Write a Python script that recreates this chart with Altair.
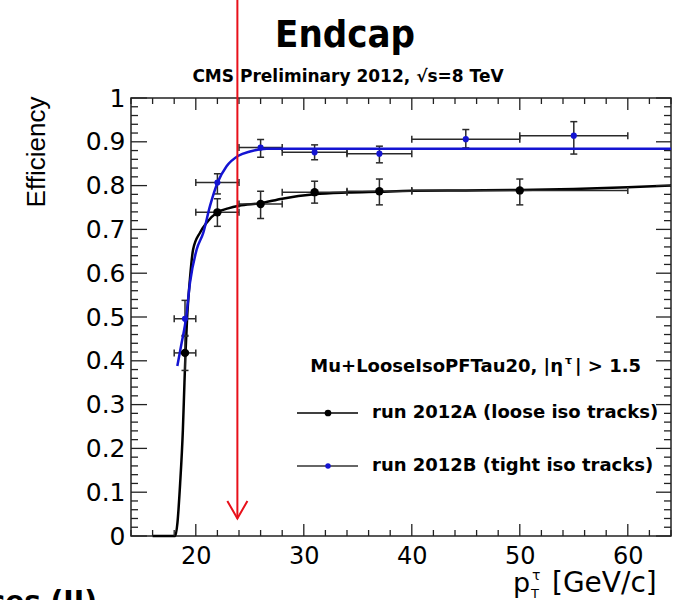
import altair as alt
import pandas as pd

# ---------------- data ----------------
# run 2012A (black, loose iso tracks)
a_x = [19, 22, 26, 31, 37, 50]
a_y = [0.418, 0.739, 0.758, 0.785, 0.787, 0.789]
a_xlo = [18, 20, 24, 28, 34, 40]
a_xhi = [20, 24, 28, 34, 40, 60]
a_ylo = [0.378, 0.707, 0.725, 0.760, 0.756, 0.756]
a_yhi = [0.458, 0.770, 0.787, 0.810, 0.815, 0.815]

# run 2012B (blue, tight iso tracks)
b_x = [19, 22, 26, 31, 37, 45, 55]
b_y = [0.496, 0.807, 0.887, 0.876, 0.873, 0.906, 0.914]
b_xlo = [18, 20, 24, 28, 34, 40, 50]
b_xhi = [20, 24, 28, 34, 40, 50, 60]
b_ylo = [0.456, 0.781, 0.865, 0.859, 0.852, 0.886, 0.872]
b_yhi = [0.538, 0.827, 0.905, 0.893, 0.890, 0.928, 0.946]

# fitted turn-on curves
a_fit_x = [16.0, 18.1, 18.3, 18.55, 18.8, 18.95, 19.05, 19.2, 19.45, 19.75, 20.4, 21.0,
           22.0, 23.0, 24.0, 26.0, 28.0, 31.0, 34.0, 37.0, 40.0, 45.0, 50.0, 55.0, 60.0, 64.0]
a_fit_y = [0.0, 0.0, 0.03, 0.12, 0.24, 0.35, 0.42, 0.50, 0.585, 0.654, 0.693, 0.715,
           0.739, 0.748, 0.754, 0.760, 0.770, 0.780, 0.784, 0.786, 0.788, 0.789, 0.790, 0.792, 0.796, 0.800]
b_fit_x = [18.29, 18.69, 19.09, 19.46, 20.08, 20.69, 21.31, 22.02, 22.85, 23.94, 25.02, 26.56, 30.0, 40.0, 64.0]
b_fit_y = [0.388, 0.441, 0.496, 0.578, 0.654, 0.692, 0.753, 0.807, 0.844, 0.868, 0.878, 0.884, 0.884, 0.884, 0.884]

# threshold arrow
arrow_x = 23.85
arrow_tip = 0.04
arrow_head_dx = 0.93
arrow_head_dy = 0.04

# axes
x_domain = [14, 64]
y_domain = [0, 1]
x_major = [20, 30, 40, 50, 60]
x_minor = [14, 16, 18, 22, 24, 26, 28, 32, 34, 36, 38, 42, 44, 46, 48, 52, 54, 56, 58, 62, 64]
y_major = [0.0, 0.1, 0.2, 0.3, 0.4, 0.5, 0.6, 0.7, 0.8, 0.9, 1.0]
y_minor = [round(m + k * 0.02, 2) for m in y_major[:-1] for k in (1, 2, 3, 4)]

title_text = "Endcap"
subtitle_text = "CMS Preliminary 2012, \u221as=8 TeV"
ytitle_text = "Efficiency"
legend_header = ["Mu+LooseIsoPFTau20, |\u03b7", "\u03c4", "| > 1.5"]
legend_a = "run 2012A (loose iso tracks)"
legend_b = "run 2012B (tight iso tracks)"
corner_text = "ces (II)"

# ---------------- chart ----------------
W, H = 540, 438
FONT = "DejaVu Sans"
BLUE = "#1414d2"
ERR = "#2a2a2a"
RED = "#e8101a"

x_axis = alt.Axis(values=x_major, title=None, domain=False, ticks=False, tickSize=0, grid=False,
                  labelFont=FONT, labelFontSize=24, labelColor="black", labelPadding=8,
                  labelFlush=False, labelOverlap=False)
y_axis = alt.Axis(values=y_major, format=".1~f", title=None, domain=False, ticks=False, tickSize=0,
                  grid=False, labelFont=FONT, labelFontSize=25, labelColor="black", labelPadding=6,
                  labelFlush=False, labelOverlap=False)


def xs():
    return alt.Scale(domain=x_domain, nice=False, zero=False)


def ys():
    return alt.Scale(domain=y_domain, nice=False, zero=False)


def X(f):
    return alt.X(f, type="quantitative", scale=xs(), axis=x_axis)


def Y(f):
    return alt.Y(f, type="quantitative", scale=ys(), axis=y_axis)


layers = []

afit = pd.DataFrame({"x": a_fit_x, "y": a_fit_y, "o": list(range(len(a_fit_x)))})
bfit = pd.DataFrame({"x": b_fit_x, "y": b_fit_y, "o": list(range(len(b_fit_x)))})

layers.append(alt.Chart(afit).mark_line(color="black", strokeWidth=2.5, interpolate="monotone").encode(
    x=X("x"), y=Y("y"), order="o:Q"))

# ticks (ROOT style, inside the frame)
xmaj = pd.DataFrame({"v": x_major})
xmin = pd.DataFrame({"v": x_minor})
ymaj = pd.DataFrame({"v": y_major})
ymin = pd.DataFrame({"v": y_minor})
tk = dict(color="#222", strokeWidth=1.3)
layers += [
    alt.Chart(xmaj).mark_rule(**tk).encode(x=X("v"), y=alt.value(H), y2=alt.value(H - 12)),
    alt.Chart(xmin).mark_rule(**tk).encode(x=X("v"), y=alt.value(H), y2=alt.value(H - 6)),
    alt.Chart(xmaj).mark_rule(**tk).encode(x=X("v"), y=alt.value(0), y2=alt.value(12)),
    alt.Chart(xmin).mark_rule(**tk).encode(x=X("v"), y=alt.value(0), y2=alt.value(6)),
    alt.Chart(ymaj).mark_rule(**tk).encode(y=Y("v"), x=alt.value(0), x2=alt.value(16)),
    alt.Chart(ymin).mark_rule(**tk).encode(y=Y("v"), x=alt.value(0), x2=alt.value(7)),
    alt.Chart(ymaj).mark_rule(**tk).encode(y=Y("v"), x=alt.value(W), x2=alt.value(W - 15)),
    alt.Chart(ymin).mark_rule(**tk).encode(y=Y("v"), x=alt.value(W), x2=alt.value(W - 7)),
]


# error bars
def errbars(df):
    out = [
        alt.Chart(df).mark_rule(color=ERR, strokeWidth=1.5).encode(x=X("x"), y=Y("ylo"), y2="yhi:Q"),
        alt.Chart(df).mark_rule(color=ERR, strokeWidth=1.5).encode(x=X("xlo"), x2="xhi:Q", y=Y("y")),
    ]
    for f in ("ylo", "yhi"):
        out.append(alt.Chart(df).mark_tick(orient="horizontal", color=ERR, size=7, thickness=1.5,
                                           opacity=1).encode(x=X("x"), y=Y(f)))
    for f in ("xlo", "xhi"):
        out.append(alt.Chart(df).mark_tick(orient="vertical", color=ERR, size=7, thickness=1.5,
                                           opacity=1).encode(x=X(f), y=Y("y")))
    return out


adf = pd.DataFrame({"x": a_x, "y": a_y, "xlo": a_xlo, "xhi": a_xhi, "ylo": a_ylo, "yhi": a_yhi})
bdf = pd.DataFrame({"x": b_x, "y": b_y, "xlo": b_xlo, "xhi": b_xhi, "ylo": b_ylo, "yhi": b_yhi})
layers += errbars(adf)
layers += errbars(bdf)

layers.append(alt.Chart(bfit).mark_line(color=BLUE, strokeWidth=2.5, interpolate="monotone").encode(
    x=X("x"), y=Y("y"), order="o:Q"))

layers.append(alt.Chart(adf).mark_point(filled=True, color="black", size=70, opacity=1).encode(x=X("x"), y=Y("y")))
layers.append(alt.Chart(bdf).mark_point(filled=True, color=BLUE, size=38, opacity=1).encode(x=X("x"), y=Y("y")))

# legend (drawn as in the ROOT pad)
one = pd.DataFrame({"k": [0]})


def txt(s, x, y, size, bold=False, align="left", baseline="middle", font=FONT, angle=None, color="black"):
    kw = dict(align=align, baseline=baseline, fontSize=size, font=font, color=color,
              fontWeight="bold" if bold else "normal")
    if angle is not None:
        kw["angle"] = angle
    return alt.Chart(pd.DataFrame({"t": [s]})).mark_text(**kw).encode(
        text="t:N", x=alt.value(x), y=alt.value(y))


layers += [
    txt(legend_header[0], 432, 269, 18, bold=True, align="right"),
    txt(legend_header[1], 434, 263, 11, bold=True),
    txt(legend_header[2], 444, 269, 18, bold=True),
    alt.Chart(one).mark_rule(color="black", strokeWidth=1.5).encode(
        x=alt.value(166), x2=alt.value(227), y=alt.value(315)),
    alt.Chart(one).mark_point(filled=True, color="black", size=45, opacity=1).encode(
        x=alt.value(197), y=alt.value(315)),
    txt(legend_a, 241, 315, 18, bold=True),
    alt.Chart(one).mark_rule(color="#333", strokeWidth=1.3).encode(
        x=alt.value(166), x2=alt.value(227), y=alt.value(368)),
    alt.Chart(one).mark_point(filled=True, color=BLUE, size=30, opacity=1).encode(
        x=alt.value(197), y=alt.value(368)),
    txt(legend_b, 241, 368, 18, bold=True),
]

# titles
layers += [
    txt(title_text, 214, -62, 38, bold=True, align="center", font="Liberation Sans Narrow, DejaVu Sans Condensed, Liberation Sans"),
    txt(subtitle_text, 217, -21, 17, bold=True, align="center"),
    txt(ytitle_text, -94, 54, 26, align="center", font="Liberation Sans", angle=270),
    txt("p", 382, 494, 27, baseline="alphabetic"),
    txt("\u03c4", 401, 478, 14),
    txt("T", 400, 500, 13, baseline="alphabetic"),
    txt("[GeV/c]", 421, 494, 28, baseline="alphabetic"),
    txt(corner_text, -34, 513, 28, bold=True, align="right", baseline="alphabetic"),
]

# red threshold arrow
arr = pd.DataFrame({"x": [arrow_x], "tip": [arrow_tip]})
head = pd.DataFrame({"x": [arrow_x - arrow_head_dx, arrow_x, arrow_x + arrow_head_dx],
                     "y": [arrow_tip + arrow_head_dy, arrow_tip, arrow_tip + arrow_head_dy],
                     "o": [0, 1, 2]})
layers += [
    alt.Chart(arr).mark_rule(color=RED, strokeWidth=2).encode(x=X("x"), y=Y("tip"), y2=alt.value(-98)),
    alt.Chart(head).mark_line(color=RED, strokeWidth=2).encode(x=X("x"), y=Y("y"), order="o:Q"),
]

chart = alt.layer(*layers).properties(
    width=W, height=H,
    autosize=alt.AutoSizeParams(type="none"),
    padding={"left": 131, "top": 98, "right": 8, "bottom": 64},
    background="white",
).configure_view(stroke="#222", strokeWidth=1.5)

chart.save("out.html", embed_options={"renderer": "svg", "actions": False})
